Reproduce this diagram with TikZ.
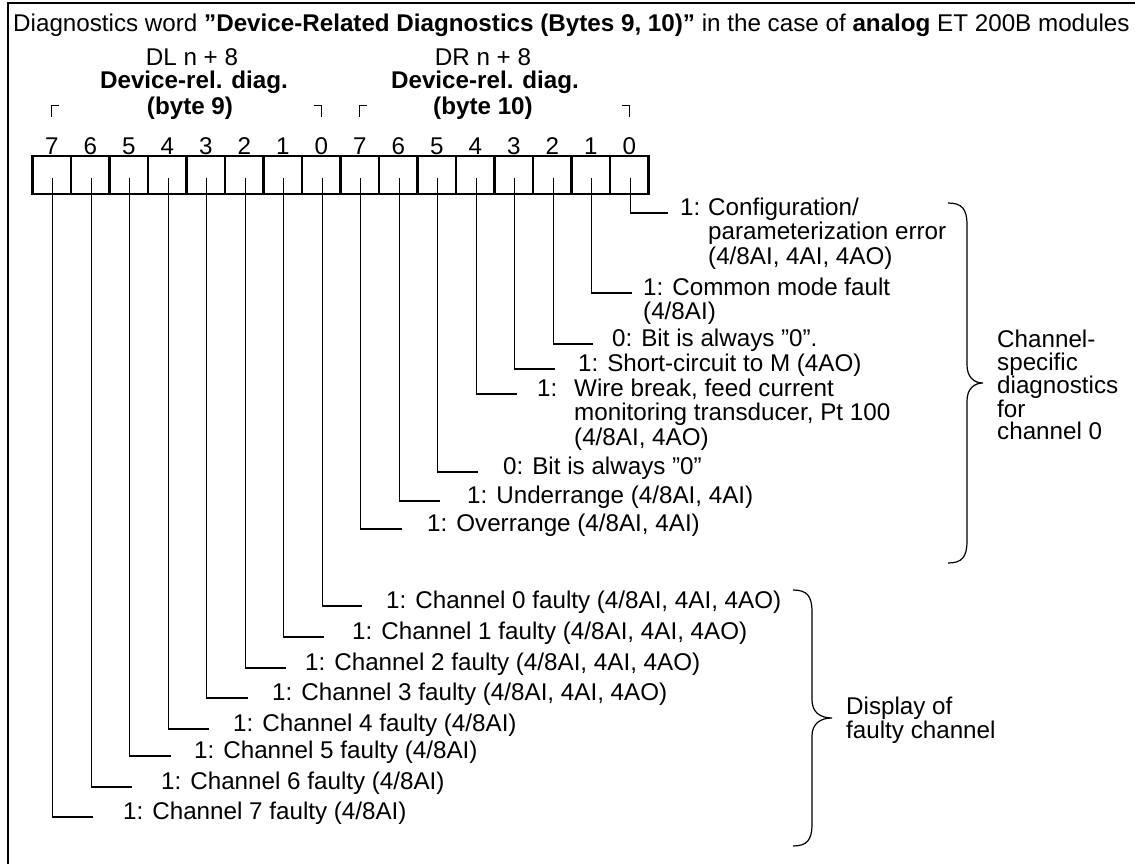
\documentclass[tikz,border=0pt]{standalone}
\usepackage{fontspec}
\setmainfont{Liberation Sans}
\begin{document}
\begin{tikzpicture}[x=1pt,y=-1pt,
  every node/.style={font=\fontsize{24.2}{22.5}\selectfont, inner sep=0pt},
  bitbox/.style={draw, line width=2.4pt, minimum width=38.5pt, minimum height=38pt},
  lead/.style={line width=1.2pt},
  lbl/.style={anchor=mid west},
  corner/.style={line width=1pt},
  curly/.style={line width=1.2pt},
  bracetext/.style={align=left, anchor=west},
  frame/.style={line width=1.5pt}]
\useasboundingbox (0,0) rectangle (1135,864);
% frame
\draw[frame] (8,864) -- (8,3) -- (1135,3);
% title
\node[anchor=mid west] (title) at (13,29) {Diagnostics word \textbf{”Device-Related Diagnostics (Bytes 9, 10)”} in the case of \textbf{analog} ET 200B modules};
% byte headers
\node (dl) at (192,57) {DL n + 8};
\node (dld) at (194,82) {\textbf{Device-rel. diag.}};
\node (dlb) at (190,108) {\textbf{(byte 9)}};
\node (dr) at (483,57) {DR n + 8};
\node (drd) at (485,82) {\textbf{Device-rel. diag.}};
\node (drb) at (483,108) {\textbf{(byte 10)}};
% boxes
\foreach \i in {0,...,15} \node[bitbox] (b\i) at ({32.5+38.5*\i+19.25},175) {};
% digits
\foreach \i/\d in {0/7,1/6,2/5,3/4,4/3,5/2,6/1,7/0,8/7,9/6,10/5,11/4,12/3,13/2,14/1,15/0}
  \node (d\i) at ({51.75+38.5*\i},146) {\d};
% corner marks
\draw[corner] ([yshift=38pt]b0.north) -- ([yshift=49pt]b0.north) -- ([xshift=7pt,yshift=49pt]b0.north);
\draw[corner] ([xshift=-7pt,yshift=49pt]b7.north) -- ([yshift=49pt]b7.north) -- ([yshift=38pt]b7.north);
\draw[corner] ([yshift=38pt]b8.north) -- ([yshift=49pt]b8.north) -- ([xshift=7pt,yshift=49pt]b8.north);
\draw[corner] ([xshift=-7pt,yshift=49pt]b15.north) -- ([yshift=49pt]b15.north) -- ([yshift=38pt]b15.north);
% leader end points
\foreach \i/\ex/\ey in {15/668/213,14/632/293,13/593/344,12/555/369,11/517/394,10/478/472,9/440/501,8/402/529,
                        7/362/606,6/324/637,5/286/668,4/248/698,3/209/729,2/171/756,1/132/787,0/93/817}
  \coordinate (e\i) at (\ex,\ey);
\foreach \i in {0,...,15}
  \draw[lead] ([xshift=1pt,yshift=-3pt]b\i.center) |- (e\i);
% labels, byte 10
\node[lbl] (l15) at (680,213) {\begin{tabular}[t]{@{}l@{}l@{}}\makebox[28pt][l]{1:}&Configuration/\\&parameterization error\\&(4/8AI, 4AI, 4AO)\end{tabular}};
\node[lbl] (l14) at (643,293) {\begin{tabular}[t]{@{}l@{}}1: Common mode fault\\(4/8AI)\end{tabular}};
\node[lbl] (l13) at (612,344) {0: Bit is always ”0”.};
\node[lbl] (l12) at (578,369) {1: Short-circuit to M (4AO)};
\node[lbl] (l11) at (537,394) {\begin{tabular}[t]{@{}l@{}l@{}}\makebox[37pt][l]{1:}&Wire break, feed current\\&monitoring transducer, Pt 100\\&(4/8AI, 4AO)\end{tabular}};
\node[lbl] (l10) at (503,472) {0: Bit is always ”0”};
\node[lbl] (l9) at (467,501) {1: Underrange (4/8AI, 4AI)};
\node[lbl] (l8) at (427,529) {1: Overrange (4/8AI, 4AI)};
% labels, byte 9
\node[lbl] (l7) at (386,606) {1: Channel 0 faulty (4/8AI, 4AI, 4AO)};
\node[lbl] (l6) at (352,637) {1: Channel 1 faulty (4/8AI, 4AI, 4AO)};
\node[lbl] (l5) at (305,668) {1: Channel 2 faulty (4/8AI, 4AI, 4AO)};
\node[lbl] (l4) at (272,698) {1: Channel 3 faulty (4/8AI, 4AI, 4AO)};
\node[lbl] (l3) at (233,729) {1: Channel 4 faulty (4/8AI)};
\node[lbl] (l2) at (194,756) {1: Channel 5 faulty (4/8AI)};
\node[lbl] (l1) at (161,787) {1: Channel 6 faulty (4/8AI)};
\node[lbl] (l0) at (123,817) {1: Channel 7 faulty (4/8AI)};
% braces
\draw[curly] (948,203) .. controls (962,203) and (967,209) .. (967,225) -- (967,365)
  .. controls (967,377) and (974,383) .. (983,383)
  .. controls (974,383) and (967,389) .. (967,401) -- (967,541)
  .. controls (967,557) and (962,563) .. (948,563);
\node[bracetext] (chs) at (997,385) {Channel-\\specific\\diagnostics\\for\\channel 0};
\draw[curly] (793,590) .. controls (807,590) and (812,596) .. (812,612) -- (812,700)
  .. controls (812,712) and (820,718) .. (832,718)
  .. controls (820,718) and (812,724) .. (812,736) -- (812,824)
  .. controls (812,840) and (807,846) .. (793,846);
\node[bracetext] (dfc) at (846,720) {Display of\\faulty channel};
\end{tikzpicture}
\end{document}
